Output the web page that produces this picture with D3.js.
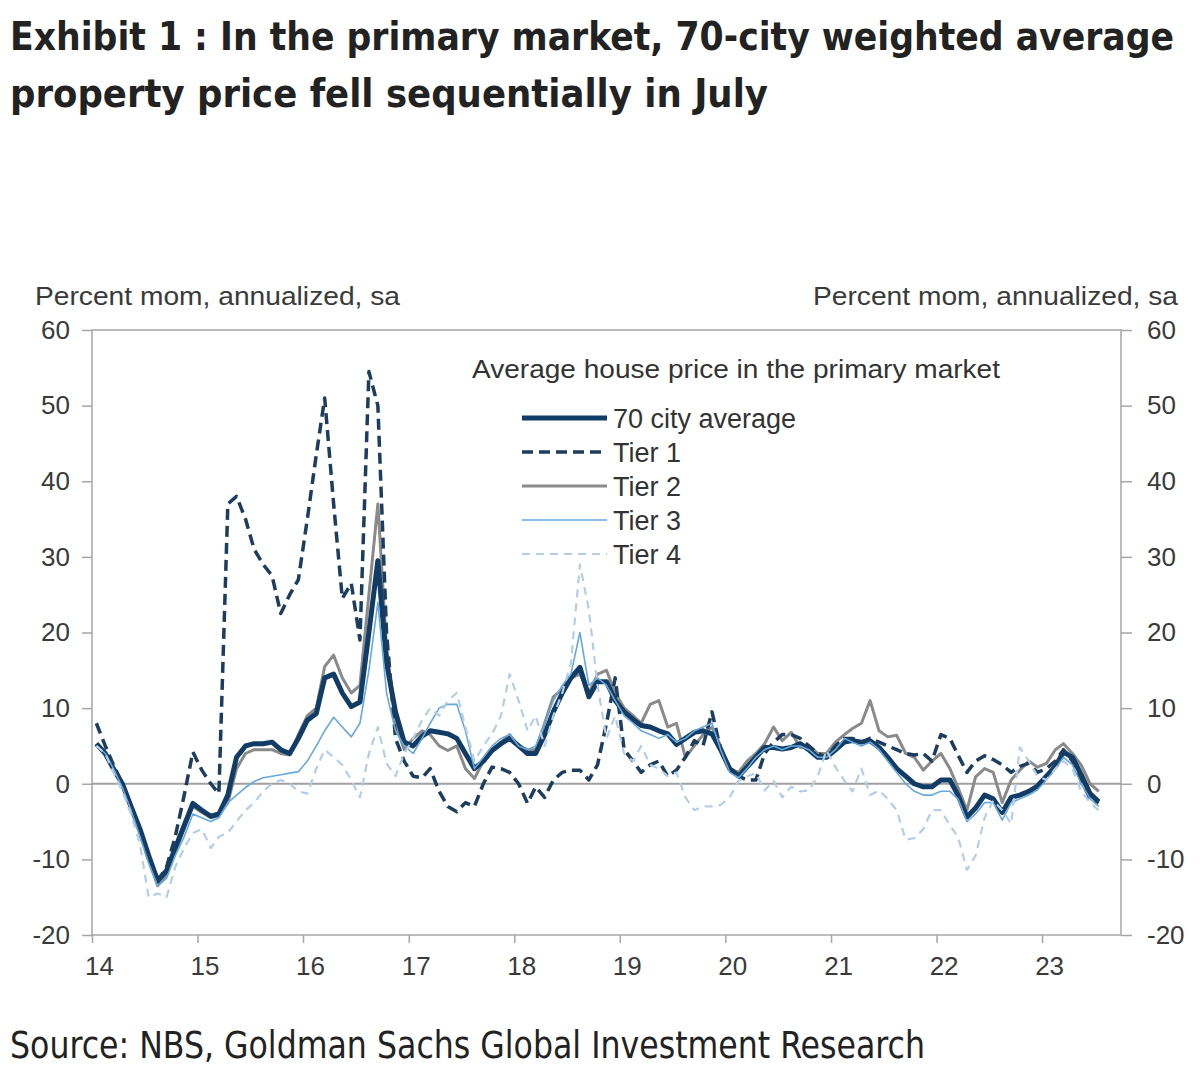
<!DOCTYPE html>
<html lang="en">
<head>
  <meta charset="UTF-8">
  <title>Exhibit 1: 70-city weighted average property price</title>
  <script src="https://d3js.org/d3.v7.min.js"></script>
  <style>
    body { margin: 0; background: #fff; }
    .tick text { font-family: "Liberation Sans", Arial, sans-serif; font-size: 26px; fill: #3a3a3a; }
    .tick line { stroke: #a6a6a6; stroke-width: 1.5px; }
    .title { font-family: "DejaVu Sans Condensed", "DejaVu Sans", sans-serif; font-weight: bold; font-size: 39px; fill: #222; }
    .source { font-family: "DejaVu Sans Condensed", "DejaVu Sans", sans-serif; font-size: 37px; fill: #222; }
    .label { font-family: "Liberation Sans", Arial, sans-serif; font-size: 25px; fill: #3a3a3a; }
    .legend text { font-family: "Liberation Sans", Arial, sans-serif; font-size: 27px; fill: #333; }
  </style>
</head>
<body>
<script>
  const width = 1200, height = 1073;

  // monthly data, Jan 2014 .. Jul 2023 (percent mom, annualized, sa)
  const avg70 = [
    5.3, 4.0, 2.0, 0.0, -3.0, -6.0, -9.5, -12.8, -11.5, -8.5, -5.5, -2.6,
    -3.5, -4.3, -4.0, -1.5, 3.5, 5.0, 5.3, 5.3, 5.5, 4.5, 4.0, 6.0,
    8.4, 9.3, 14.0, 14.5, 12.0, 10.2, 10.8, 20.0, 29.5, 16.0, 9.5, 5.5,
    5.0, 6.3, 7.0, 6.8, 6.6, 6.0, 4.0, 2.0, 3.0, 4.4, 5.3, 6.0,
    5.0, 4.0, 4.0, 6.5, 9.5, 12.0, 14.0, 15.4, 11.5, 13.5, 13.5, 11.0,
    9.5, 8.5, 7.7, 7.5, 7.0, 6.6, 5.2, 6.0, 6.8, 7.0, 6.6, 4.5,
    2.0, 1.0, 2.2, 3.5, 4.8, 4.8, 4.6, 4.8, 5.3, 4.5, 3.5, 3.5,
    4.5, 5.5, 5.7, 5.5, 5.7, 4.8, 3.5, 2.0, 1.0, 0.0, -0.4, -0.4,
    0.5, 0.5, -1.5, -4.4, -3.2, -1.5, -2.0, -3.8, -1.8, -1.5, -1.0, -0.3,
    1.0, 2.3, 4.2, 3.5, 1.2, -1.3, -2.4
  ];
  const tier1 = [
    8.0, 5.0, 2.5, 0.0, -3.0, -6.5, -10.0, -13.0, -11.0, -7.0, -1.5, 4.2,
    1.8, 0.0, -1.3, 37.0, 38.0, 35.0, 31.0, 29.0, 27.5, 22.5, 25.0, 27.0,
    35.0, 43.5, 51.0, 37.0, 24.5, 26.5, 19.0, 54.5, 50.0, 20.0, 6.0, 3.0,
    1.0, 0.8, 2.0, -1.0, -3.0, -3.7, -2.5, -3.0, 0.0, 2.2, 2.0, 1.5,
    0.0, -2.6, -0.4, -1.8, 0.5, 1.5, 1.8, 1.8, 0.5, 2.5, 8.0, 14.0,
    4.5, 3.0, 1.5, 2.5, 3.0, 1.0, 1.8, 3.5, 5.7, 5.0, 9.5, 4.5,
    2.0, 1.0, 0.5, 0.5, 4.0, 5.5, 6.5, 6.5, 6.0, 5.0, 4.0, 3.5,
    5.0, 6.0, 6.0, 5.5, 6.0, 5.5, 5.0, 4.5, 4.0, 3.8, 4.0, 3.0,
    6.5, 6.0, 3.8, 1.5, 3.0, 3.7, 3.2, 2.5, 1.5, 2.3, 2.7, 1.5,
    2.0, 3.0, 4.5, 3.0, 0.5, -2.0, -2.5
  ];
  const tier2 = [
    5.0, 4.0, 2.0, 0.0, -3.5, -6.5, -10.0, -13.5, -12.0, -9.0, -6.0, -3.0,
    -3.8, -4.5, -4.2, -2.5, 2.0, 4.0, 4.5, 4.5, 4.5, 4.0, 3.8, 6.5,
    9.0, 10.0, 15.5, 17.0, 14.0, 12.0, 13.0, 25.0, 37.0, 18.0, 8.0, 4.5,
    6.0, 7.0, 6.5, 5.0, 4.4, 5.0, 2.0, 0.7, 3.0, 4.5, 5.5, 6.5,
    5.0, 4.5, 4.5, 8.0, 11.5, 12.5, 14.0, 14.5, 12.0, 14.5, 15.0, 12.0,
    10.0, 9.0, 8.0, 10.5, 11.0, 7.5, 8.0, 3.5, 5.0, 6.5, 7.5, 5.0,
    2.0, 1.5, 3.0, 4.0, 5.3, 7.5, 5.7, 6.8, 4.8, 5.0, 4.0, 4.0,
    5.5, 6.5, 7.3, 8.0, 11.0, 7.0, 6.2, 6.4, 4.0, 3.5, 1.8, 3.0,
    4.0, 2.0, -0.5, -3.5, 0.9, 2.0, 1.5, -2.5, 0.5, 1.8, 3.0, 2.2,
    2.7, 4.5, 5.3, 4.0, 2.5, 0.0, -1.0
  ];
  const tier3 = [
    5.0, 4.0, 2.0, -0.5, -3.5, -7.0, -10.5, -13.5, -12.5, -9.5, -7.0, -4.0,
    -4.5, -5.0, -4.5, -2.5, -1.5, -0.5, 0.3, 0.8, 1.0, 1.2, 1.4, 1.6,
    3.0, 5.0, 7.0, 8.8, 7.5, 6.2, 8.0, 15.0, 24.0, 12.0, 7.0, 5.0,
    4.0, 6.0, 8.0, 10.0, 10.5, 10.5, 7.0, 2.0, 3.5, 5.0, 6.0, 6.5,
    5.0, 4.5, 5.0, 8.0, 11.0, 13.0, 14.5, 20.0, 13.0, 14.0, 13.0, 11.0,
    9.0, 8.0, 7.0, 6.5, 6.0, 6.5, 5.5, 6.0, 7.0, 7.5, 8.0, 4.5,
    1.5, 0.8, 2.0, 3.5, 4.5, 5.0, 4.5, 5.0, 5.0, 4.5, 3.5, 3.5,
    4.5, 6.0, 5.5, 5.0, 5.5, 4.5, 3.0, 1.5, 0.0, -1.0, -1.5, -1.5,
    -1.0, -1.0, -2.0, -5.0, -4.0, -2.5, -2.5, -4.8, -2.5, -2.0, -1.5, -0.8,
    0.5, 2.0, 3.5, 2.5, 0.0, -2.0, -3.0
  ];
  const tier4 = [
    5.0, 4.0, 1.5, -1.0, -4.0, -8.0, -15.0, -14.5, -15.0, -11.0, -8.5, -6.5,
    -6.0, -8.5, -7.0, -6.5, -5.0, -3.5, -2.5, -1.0, 0.0, 0.5, 0.0, -1.0,
    -1.3, 2.0, 4.5, 3.5, 2.5, 0.5, -1.8, 4.0, 7.5, 2.7, 1.0, 4.0,
    6.0, 8.4, 10.0, 9.0, 11.0, 12.0, 7.5, 3.0, 5.0, 6.6, 9.0, 14.5,
    11.0, 7.0, 9.0, 5.0, 9.0, 12.0, 16.0, 29.0, 23.0, 13.0, 6.0, 9.0,
    4.0, 3.0, 5.0, 2.5, 2.0, 1.0, 1.5, -1.8, -3.5, -3.0, -3.0, -2.8,
    -1.8, 0.4, 1.0, 1.4, -0.9, 0.4, -1.8, -0.4, -1.0, -0.9, 1.0, 4.4,
    2.2, 0.4, -1.0, 2.0, -1.5, -0.9, -2.0, -3.5, -7.4, -7.2, -6.0, -3.5,
    -3.5, -5.5, -7.0, -11.4, -9.5, -4.5, -2.2, -3.5, -5.3, 4.8, 3.0, 1.0,
    0.5, 2.0, 3.0, 2.0, -1.0, -2.5, -3.5
  ];

  const seriesNames = ["70 city average", "Tier 1", "Tier 2", "Tier 3", "Tier 4"];
  const yTicks = [-20, -10, 0, 10, 20, 30, 40, 50, 60];
  const months = d3.timeMonth.range(new Date(2014, 0, 1), new Date(2023, 7, 1));

  const titleLines = [
    "Exhibit 1 : In the primary market, 70-city weighted average",
    "property price fell sequentially in July"
  ];
  const axisTitle = "Percent mom, annualized, sa";
  const legendTitle = "Average house price in the primary market";
  const sourceText = "Source: NBS, Goldman Sachs Global Investment Research";

  // line styles per series, same order as seriesNames
  const styles = [
    { color: "#103c66", width: 5, dash: null },
    { color: "#1d3d5f", width: 3.5, dash: "11,6" },
    { color: "#8a8a8a", width: 3, dash: null },
    { color: "#67a9dd", width: 1.6, dash: null },
    { color: "#b3cee6", width: 2.2, dash: "8,6" }
  ];
  const seriesValues = [avg70, tier1, tier2, tier3, tier4];

  const plotLeft = 92, plotRight = 1121, plotTop = 330, plotBottom = 935;

  const svg = d3.select("body").append("svg")
    .attr("width", width)
    .attr("height", height)
    .style("background-color", "#ffffff");

  const x = d3.scaleTime()
    .domain([new Date(2014, 0, 1), new Date(2023, 9, 1)])
    .range([plotLeft, plotRight]);

  const y = d3.scaleLinear()
    .domain([-20, 60])
    .range([plotBottom, plotTop]);

  // title
  svg.selectAll("text.title")
    .data(titleLines)
    .enter().append("text")
    .attr("class", "title")
    .attr("x", 10)
    .attr("y", (d, i) => 50 + i * 57)
    .attr("textLength", (d, i) => i === 0 ? 1164 : 758)
    .attr("lengthAdjust", "spacingAndGlyphs")
    .text(d => d);

  // axis titles
  svg.append("text").attr("class", "label")
    .attr("x", 35).attr("y", 305)
    .attr("textLength", 365).attr("lengthAdjust", "spacingAndGlyphs")
    .text(axisTitle);
  svg.append("text").attr("class", "label")
    .attr("x", 813).attr("y", 305)
    .attr("textLength", 365).attr("lengthAdjust", "spacingAndGlyphs")
    .text(axisTitle);

  // frame
  svg.append("rect")
    .attr("x", plotLeft).attr("y", plotTop)
    .attr("width", plotRight - plotLeft).attr("height", plotBottom - plotTop)
    .attr("fill", "none")
    .attr("stroke", "#a6a6a6")
    .attr("stroke-width", 1.5);

  // axes (plain hyphen for negatives, as in the original)
  const plainNum = d => String(d);

  const xAxis = d3.axisBottom(x)
    .ticks(d3.timeYear.every(1))
    .tickFormat(d3.timeFormat("%y"))
    .tickSize(8)
    .tickPadding(14);

  svg.append("g")
    .attr("transform", `translate(0,${plotBottom})`)
    .call(xAxis)
    .call(g => g.select(".domain").remove())
    .call(g => g.selectAll(".tick text").attr("dx", 7));

  svg.append("g")
    .attr("transform", `translate(${plotLeft},0)`)
    .call(d3.axisLeft(y).tickValues(yTicks).tickFormat(plainNum).tickSize(10).tickPadding(12))
    .call(g => g.select(".domain").remove());

  svg.append("g")
    .attr("transform", `translate(${plotRight},0)`)
    .call(d3.axisRight(y).tickValues(yTicks).tickFormat(plainNum).tickSize(11).tickPadding(15))
    .call(g => g.select(".domain").remove());

  // zero line
  svg.append("line")
    .attr("x1", plotLeft).attr("x2", plotRight)
    .attr("y1", y(0)).attr("y2", y(0))
    .attr("stroke", "#a0a0a0")
    .attr("stroke-width", 2);

  // series lines
  const line = d3.line()
    .x((d, i) => x(d3.timeDay.offset(months[i], 15)))
    .y(d => y(d));

  const drawOrder = [2, 0, 1, 3, 4];
  svg.append("g")
    .selectAll("path")
    .data(drawOrder)
    .enter().append("path")
    .attr("d", k => line(seriesValues[k]))
    .attr("fill", "none")
    .attr("stroke", k => styles[k].color)
    .attr("stroke-width", k => styles[k].width)
    .attr("stroke-dasharray", k => styles[k].dash)
    .attr("stroke-linejoin", "round");

  // legend
  const legend = svg.append("g").attr("class", "legend");
  legend.append("text")
    .attr("x", 472).attr("y", 378)
    .attr("textLength", 528).attr("lengthAdjust", "spacingAndGlyphs")
    .style("font-size", "25px")
    .text(legendTitle);

  const rows = legend.selectAll("g.row")
    .data(seriesNames)
    .enter().append("g")
    .attr("class", "row")
    .attr("transform", (d, i) => `translate(0,${418 + i * 34})`);

  rows.append("line")
    .attr("x1", 522).attr("x2", 607)
    .attr("stroke", (d, i) => styles[i].color)
    .attr("stroke-width", (d, i) => styles[i].width)
    .attr("stroke-dasharray", (d, i) => styles[i].dash);

  rows.append("text")
    .attr("x", 613).attr("y", 10)
    .text(d => d);

  // source
  svg.append("text").attr("class", "source")
    .attr("x", 10).attr("y", 1058)
    .attr("textLength", 915).attr("lengthAdjust", "spacingAndGlyphs")
    .text(sourceText);
</script>
</body>
</html>
